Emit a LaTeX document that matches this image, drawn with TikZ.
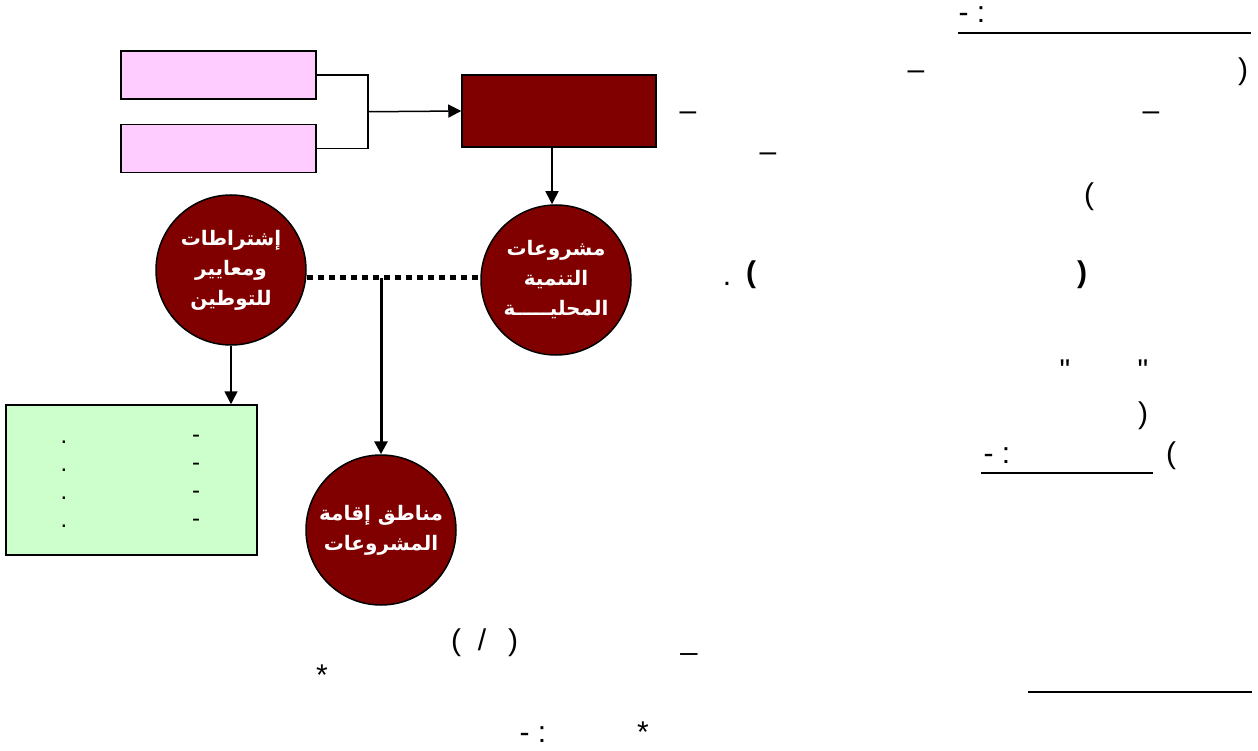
\documentclass[tikz,border=0pt]{standalone}
\usepackage{fontspec}
\setmainfont{Liberation Sans}
\newfontfamily\arabicfont[Script=Arabic]{DejaVu Sans}
\TeXXeTstate=1
\usepackage{xcolor}
\usetikzlibrary{arrows.meta, positioning, calc}

\definecolor{hubred}{HTML}{800000}
\definecolor{pinkfill}{HTML}{FFCCFF}
\definecolor{greenfill}{HTML}{CCFFCC}

\begin{document}
\begin{tikzpicture}[
    x=1pt, y=-1pt,
    every node/.style={font=\fontsize{30}{34}\selectfont},
    inbox/.style={rectangle, draw, line width=1.5pt, minimum width=195pt,
                  minimum height=48pt, fill=pinkfill},
    hub/.style={rectangle, draw, line width=1.5pt, minimum width=194pt,
                minimum height=72pt, fill=hubred},
    topic/.style={circle, draw, line width=1.5pt, minimum size=150pt, inner sep=0pt,
                  fill=hubred, text=white, align=center,
                  font=\arabicfont\bfseries\fontsize{20}{30}\selectfont},
    listbox/.style={rectangle, draw, line width=1.5pt, minimum width=251pt,
                    minimum height=150pt, fill=greenfill},
    glyphtext/.style={inner sep=0pt, anchor=base},
    arrow/.style={-{Triangle[length=13pt, width=13pt]}, line width=1.5pt},
    linkline/.style={line width=1.5pt},
    dotline/.style={line width=5pt, dash pattern=on 6pt off 5pt},
    uline/.style={line width=2pt}
]
\useasboundingbox (0,0) rectangle (1258,751);

% Inputs and hub
\node[inbox] (pink1) at (218.5,75) {};
\node[inbox, below=24pt of pink1] (pink2) {};
\node[hub] (hub) at (559,111) {};

% Circles
\node[topic] (rcirc) at (556,280)
    {\beginR مشروعات\endR\\ \beginR التنمية\endR\\ \beginR المحليـــــة\endR};
\node[topic] (lcirc) at (231,270)
    {\beginR إشتراطات\endR\\ \beginR ومعايير\endR\\ \beginR للتوطين\endR};
\node[topic] (bcirc) at (381,530)
    {\beginR مناطق إقامة\endR\\ \beginR المشروعات\endR};

% Green list box
\node[listbox] (list) at (131.5,480) {};
\foreach \row in {0,...,3} {
  \node[glyphtext, font=\fontsize{24}{28}\selectfont] (ldash\row) at (196,{442+28*\row}) {-};
  \node[glyphtext, font=\fontsize{24}{28}\selectfont] (ldot\row) at (64,{443+28*\row}) {.};
}

% Arrows
\coordinate (fork) at ($(pink1.east)!0.5!(pink2.east)+(51,0)$);
\draw[linkline] (pink1.east) -| (fork) |- (pink2.east);
\draw[arrow] (fork) -- (hub.west);
\draw[arrow] ([xshift=-4pt]hub.south -| rcirc.north) -- ([xshift=-4pt]rcirc.north);
\draw[dotline] ([yshift=2pt]lcirc.east |- rcirc.west) -- ([yshift=2pt]rcirc.west);
\coordinate (split) at ([yshift=2pt]bcirc.north |- rcirc.west);
\draw[arrow, line width=3pt] (split) -- (bcirc.north);
\draw[arrow] (lcirc.south) -- (lcirc.south |- list.north);

% Stray marks of the text column
\node[glyphtext] (ta) at (972,23) {- :};
\draw[uline] (958,33) -- (1251,33);
\node[glyphtext] (tb1) at (916,80) {\textendash};
\node[glyphtext] (tb2) at (1243,80) {)};
\node[glyphtext] (tc1) at (688,121) {\textendash};
\node[glyphtext] (tc2) at (1151,121) {\textendash};
\node[glyphtext] (td) at (768,162) {\textendash};
\node[glyphtext] (te) at (1089,205) {(};
\node[glyphtext] (tf1) at (727,286) {.};
\node[glyphtext, font=\bfseries\fontsize{30}{34}\selectfont] (tf2) at (751,283) {(};
\node[glyphtext, font=\bfseries\fontsize{30}{34}\selectfont] (tf3) at (1082,283) {)};
\node[glyphtext] (tg1) at (1065,380) {\textquotedbl};
\node[glyphtext] (tg2) at (1143,380) {\textquotedbl};
\node[glyphtext] (th) at (1143,423) {)};
\node[glyphtext] (ti1) at (997,463) {- :};
\node[glyphtext] (ti2) at (1171,463) {(};
\draw[uline] (981,473) -- (1153,473);
\node[glyphtext] (tj1) at (456,650) {(};
\node[glyphtext] (tj2) at (482,650) {/};
\node[glyphtext] (tj3) at (513,650) {)};
\node[glyphtext] (tj4) at (689,649) {\_};
\node[glyphtext] (tk) at (322,685) {*};
\draw[uline] (1028,692) -- (1252,692);
\node[glyphtext] (tl1) at (533,742) {- :};
\node[glyphtext] (tl2) at (643,742) {*};

\end{tikzpicture}
\end{document}
